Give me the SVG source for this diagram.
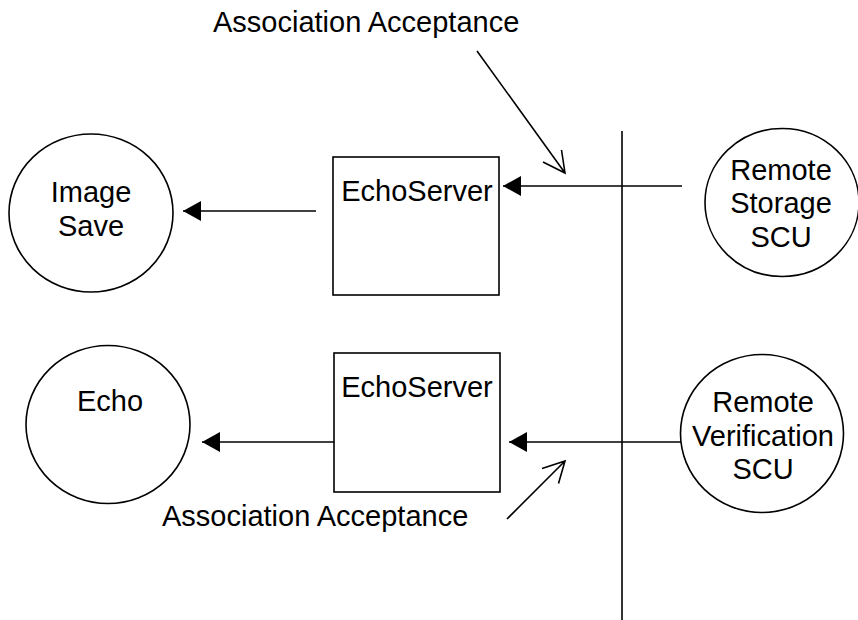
<svg xmlns="http://www.w3.org/2000/svg" width="858" height="620" viewBox="0 0 858 620">
<style>
.shape{fill:#fff;stroke:#000;stroke-width:1.6}
.ln{fill:none;stroke:#000;stroke-width:1.6}
text{font-family:"Liberation Sans",Arial,sans-serif;font-size:29px;fill:#000;text-anchor:middle}
.lbl{text-anchor:start}
</style>
<defs>
<marker id="tri" markerUnits="userSpaceOnUse" markerWidth="20" markerHeight="20" viewBox="0 0 18 20" refX="18" refY="10" orient="auto">
<path d="M0,0 L18,10 L0,20 Z" fill="#000"/>
</marker>
</defs>
<rect width="858" height="620" fill="#fff"/>
<g id="connectors">
<line class="ln" x1="622" y1="131" x2="622" y2="620"/>
<line class="ln" x1="316" y1="211" x2="183" y2="211" marker-end="url(#tri)"/>
<line class="ln" x1="682" y1="186" x2="503" y2="186" marker-end="url(#tri)"/>
<line class="ln" x1="334" y1="442" x2="202" y2="442" marker-end="url(#tri)"/>
<line class="ln" x1="681" y1="442" x2="509" y2="442" marker-end="url(#tri)"/>
<path class="ln" d="M477,51 L565,173 M543,162 L565,173 L561.5,150"/>
<path class="ln" d="M507,519 L565,461 M542,468.5 L565,461 L558.5,483.5"/>
</g>
<g id="image-save">
<ellipse class="shape" cx="91" cy="213" rx="82" ry="79"/>
<text x="91" y="202">Image</text>
<text x="91" y="236">Save</text>
</g>
<g id="echo">
<ellipse class="shape" cx="108" cy="424.5" rx="82" ry="79"/>
<text x="110" y="411">Echo</text>
</g>
<g id="echoserver-1">
<rect class="shape" x="333" y="157" width="166" height="138"/>
<text x="417" y="201">EchoServer</text>
</g>
<g id="echoserver-2">
<rect class="shape" x="334" y="353" width="166" height="139"/>
<text x="417" y="397">EchoServer</text>
</g>
<g id="remote-storage">
<ellipse class="shape" cx="782" cy="202.5" rx="77" ry="74"/>
<text x="781" y="180">Remote</text>
<text x="781" y="213">Storage</text>
<text x="781" y="247">SCU</text>
</g>
<g id="remote-verification">
<ellipse class="shape" cx="762" cy="433.5" rx="81.5" ry="79"/>
<text x="763" y="412">Remote</text>
<text x="763" y="446">Verification</text>
<text x="763" y="479">SCU</text>
</g>
<g id="labels">
<text class="lbl" x="213" y="32">Association Acceptance</text>
<text class="lbl" x="162" y="526">Association Acceptance</text>
</g>
</svg>
